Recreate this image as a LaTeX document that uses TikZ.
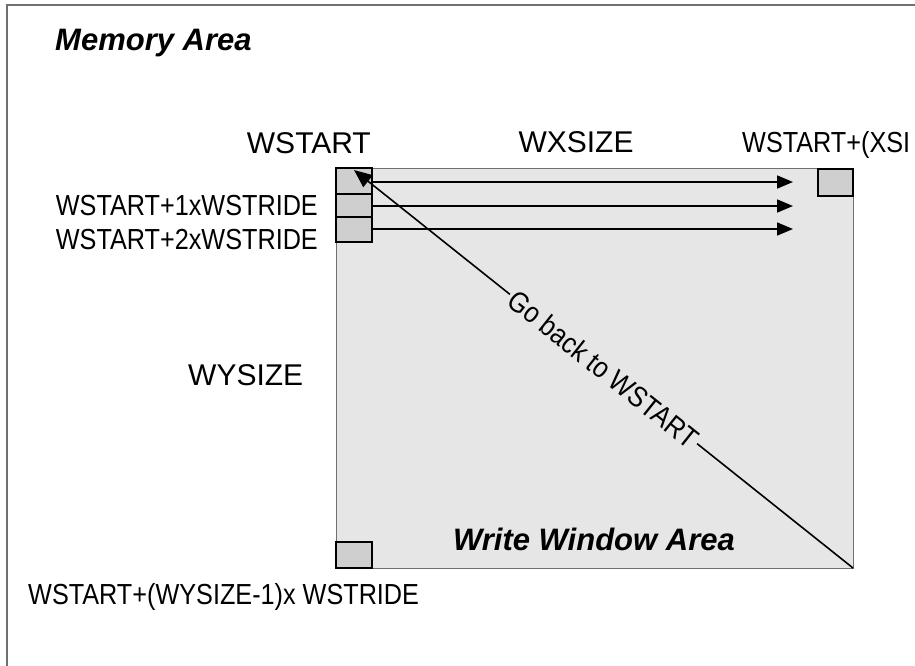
\documentclass[tikz,border=0pt]{standalone}
\usepackage{fontspec}
\setmainfont{Liberation Sans}
\newfontfamily\condfont{Liberation Sans}[FakeStretch=0.87]
\usetikzlibrary{arrows.meta}
\definecolor{areagray}{HTML}{E6E6E6}
\definecolor{cellgray}{HTML}{CFCFCF}
\definecolor{framegray}{HTML}{707070}
\tikzset{
  cell/.style={draw=black, line width=1.5pt, fill=cellgray, minimum width=36pt, minimum height=25pt, inner sep=0pt, outer sep=0pt},
  rowarrow/.style={line width=1.6pt, -{Triangle[length=16pt,width=13pt]}},
  backarrow/.style={line width=1.6pt, -{Triangle[length=18pt,width=15pt]}},
  biglabel/.style={font=\fontsize{30}{30}\selectfont, inner sep=0pt},
  smalllabel/.style={font=\condfont\fontsize{29}{29}\selectfont, inner sep=0pt},
  titlelabel/.style={font=\bfseries\itshape\fontsize{31}{31}\selectfont, inner sep=0pt}
}
\begin{document}
\begin{tikzpicture}[x=1pt,y=-1pt]
\useasboundingbox (0,0) rectangle (915,665);
\draw[framegray, line width=2pt] (7,5) rectangle (940,690);
\node[titlelabel, anchor=base west] (mem) at (55,50) {Memory Area};
\node[draw=framegray, line width=1pt, fill=areagray, minimum width=517pt, minimum height=400pt, inner sep=0pt, outer sep=0pt, anchor=north west] (wa) at (336,168) {};
\node[cell, minimum height=26pt, anchor=north west] (b1) at (336,168) {};
\node[cell, minimum height=23pt, anchor=north west] (b2) at (336,194) {};
\node[cell, minimum height=25pt, anchor=north west] (b3) at (336,217) {};
\node[cell, minimum width=35pt, minimum height=27pt, anchor=north west] (tr) at (818,169) {};
\node[cell, minimum height=26pt, anchor=north west] (bl) at (336,542) {};
\coordinate (t1) at (793,182);
\coordinate (t2) at (793,206);
\coordinate (t3) at (793,229);
\draw[rowarrow] (b1.east |- t1) -- (t1);
\draw[rowarrow] (b2.east |- t2) -- (t2);
\draw[rowarrow] (b3.east |- t3) -- (t3);
\coordinate (home) at (354,170);
\draw[backarrow] (wa.south east) -- node[sloped, fill=areagray, inner sep=3pt, font=\condfont\fontsize{29}{29}\selectfont] (gb) {Go back to WSTART} (home);
\node[biglabel, anchor=base east] (ws) at (371,153) {WSTART};
\node[biglabel, anchor=base] (wx) at (576,152) {WXSIZE};
\node[smalllabel, anchor=base west] (wse) at (742,152) {WSTART+(XSI};
\node[smalllabel, anchor=base east] (w1) at (318,215) {WSTART+1xWSTRIDE};
\node[smalllabel, anchor=base east] (w2) at (318,249) {WSTART+2xWSTRIDE};
\node[biglabel, anchor=base west] (wy) at (188,385) {WYSIZE};
\node[titlelabel, anchor=base east] (wwa) at (735,550) {Write Window Area};
\node[smalllabel, anchor=base west] (wb) at (28,604) {WSTART+(WYSIZE-1)x WSTRIDE};
\end{tikzpicture}
\end{document}
